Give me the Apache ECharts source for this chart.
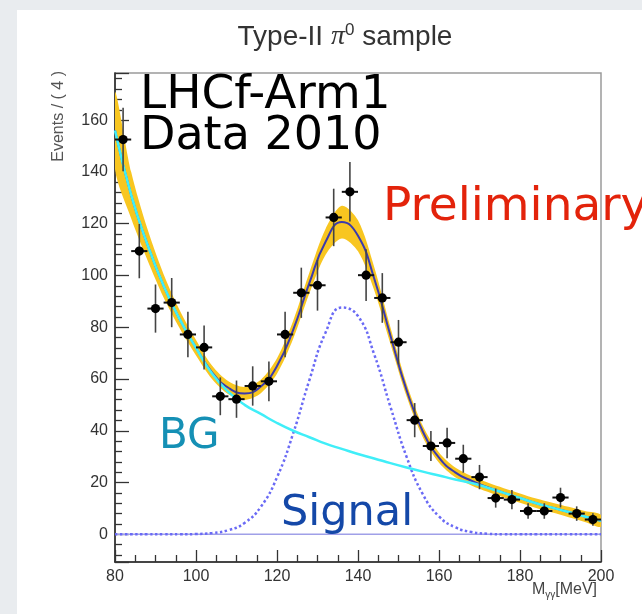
<!DOCTYPE html>
<html><head><meta charset="utf-8">
<script src="https://cdn.jsdelivr.net/npm/echarts@6/dist/echarts.min.js"></script>
<style>html,body{margin:0;padding:0;background:#e9ecef;}#c{width:642px;height:614px;}</style>
</head><body><div id="c"></div>
<script>
// Data points (bin centres, events per 4 MeV, statistical errors)
const dataX = [82,86,90,94,98,102,106,110,114,118,122,126,130,134,138,142,146,150,154,158,162,166,170,174,178,182,186,190,194,198];
const dataY = [152.5,109.4,87.2,89.5,77.2,72.2,53.3,52.2,57.3,59.1,77.2,93.3,96.2,122.4,132.3,100.1,91.3,74.2,44.1,34.1,35.3,29.2,22.1,14.0,13.4,9.0,9.0,14.2,8.0,5.7];
const dataErr = [12.3,10.5,9.3,9.5,8.8,8.5,7.3,7.2,7.6,7.7,8.8,9.7,9.8,11.1,11.5,10.0,9.6,8.6,6.6,5.8,5.9,5.4,4.7,3.7,3.7,3.0,3.0,3.8,2.8,2.4];

// Fit curves read at 4 MeV steps
const fitX = [80,84,88,92,96,100,104,108,112,116,120,124,128,132,136,140,144,148,152,156,160,164,168,172,176,180,184,188,192,196,200];
const bgY = [156,131,112,96,83,72,62,55,50,46.5,43,40,37.5,35,33,31,29.3,27.5,25.8,24.2,22.7,21.2,19.8,18,16,14,12,10.3,8.6,6.9,5.2];
const sigY = [0,0,0,0,0,0.1,0.5,1.6,4.4,10.6,22,39,59.6,78,87.6,84.3,69.5,49.3,29.9,15.5,6.9,2.7,0.9,0.2,0,0,0,0,0,0,0];
const totY = [156,131,112,96,83,72.1,62.5,56.6,54.4,57.1,65,79,97.1,113,120.6,115.3,98.8,76.8,55.7,39.7,29.6,23.9,20.7,18.2,16,14,12,10.3,8.6,6.9,5.2];
const bandLow = [141,122,106,91.5,79.5,69.1,59.9,54.1,51.9,54.5,62,75.5,93.1,108,114.3,109.3,94.3,73.6,53.2,37.5,27.6,22,18.9,16.4,14.2,12.2,10.2,8.4,6.6,4.8,2.9];
const bandHigh = [171,140,118,100.5,86.5,75.1,65.1,59.1,56.9,59.7,68,82.5,101.1,118,126.9,121.3,103.3,80,58.2,41.9,31.6,25.8,22.5,20,17.8,15.8,13.8,12.2,10.6,9,7.5];

const zeroLine = [[80,0],[200,0]];

const pts = (xs, ys) => xs.map((x,i)=>[x, ys[i]]);

const chart = echarts.init(document.getElementById('c'), null, {renderer:'canvas'});
const lblFont = 'Liberation Sans, Arial, sans-serif';
const bigFont = 'DejaVu Sans, sans-serif';

chart.setOption({
  backgroundColor: '#e9ecef',
  animation: false,
  grid: {left:115, right:41, top:73, bottom:52, show:true, borderColor:'#9a9a9a', borderWidth:1.5, backgroundColor:'#fff'},
  xAxis: {
    type:'value', min:80, max:200, interval:20,
    axisLine:{show:true, onZero:false, lineStyle:{color:'#222', width:1.5}},
    axisTick:{show:true, inside:true, length:12, lineStyle:{color:'#333', width:1.3}},
    minorTick:{show:true, splitNumber:4, length:7, lineStyle:{color:'#333', width:1.3}},
    axisLabel:{fontSize:16, color:'#333', fontFamily:lblFont, margin:7},
    splitLine:{show:false}, minorSplitLine:{show:false}
  },
  yAxis: {
    type:'value', min:-10.7, max:178.2, splitNumber:10,
    axisLine:{show:true, onZero:false, lineStyle:{color:'#222', width:1.5}},
    axisTick:{show:true, inside:true, length:14, lineStyle:{color:'#333', width:1.3}},
    minorTick:{show:true, splitNumber:5, length:7, lineStyle:{color:'#333', width:1.3}},
    axisLabel:{fontSize:16, color:'#333', fontFamily:lblFont, margin:7, showMinLabel:false, showMaxLabel:false},
    splitLine:{show:false}, minorSplitLine:{show:false}
  },
  graphic: [
    {type:'rect', left:17, top:10, shape:{width:625, height:604}, style:{fill:'#fff'}, z:-10, silent:true},
    {type:'text', x:345, y:37, style:{
      text:'{a|Type-II }{p|π}{s|0}{a| sample}', align:'center', verticalAlign:'middle',
      rich:{a:{fontSize:28, fontFamily:lblFont, fill:'#333'}, p:{fontSize:28, fontFamily:'Liberation Serif, serif', fontStyle:'italic', fill:'#333'}, s:{fontSize:17, fontFamily:lblFont, fill:'#333', padding:[0,0,14,0]}}}},
    {type:'text', x:59, y:71, rotation:Math.PI/2, style:{text:'Events / ( 4 )', align:'right', verticalAlign:'middle', fontSize:16, fontFamily:lblFont, fill:'#555'}},
    {type:'text', x:597, y:590, style:{
      text:'{a|M}{b|γγ}{a|[MeV]}', align:'right', verticalAlign:'middle',
      rich:{a:{fontSize:16, fontFamily:lblFont, fill:'#444'}, b:{fontSize:10, fontFamily:lblFont, fill:'#444', padding:[10,0,0,0]}}}},
    {type:'text', x:140, y:96, z:100, style:{text:'LHCf-Arm1', fontSize:47, fontFamily:bigFont, fill:'#000', verticalAlign:'middle'}},
    {type:'text', x:140, y:137, z:100, style:{text:'Data 2010', fontSize:46, fontFamily:bigFont, fill:'#000', verticalAlign:'middle'}},
    {type:'text', x:383, y:208, z:100, style:{text:'Preliminary', fontSize:47, fontFamily:bigFont, fill:'#e3230b', verticalAlign:'middle'}},
    {type:'text', x:159, y:437, z:100, style:{text:'BG', fontSize:42, fontFamily:bigFont, fill:'#1590b5', verticalAlign:'middle'}},
    {type:'text', x:281, y:514, z:100, style:{text:'Signal', fontSize:43, fontFamily:bigFont, fill:'#1448a8', verticalAlign:'middle'}}
  ],
  series: [
    {type:'custom', name:'band', data:fitX.map((x,i)=>[x, bandLow[i], bandHigh[i]]), encode:{x:0, y:[1,2]}, clip:true, z:2, silent:true,
      renderItem:(params, api)=>{
        if (params.dataIndexInside !== 0) return null;
        const n = params.dataInsideLength;
        const up = [], lo = [];
        for (let i = 0; i < n; i++) {
          const x = api.value(0, i);
          up.push(api.coord([x, api.value(2, i)]));
          lo.push(api.coord([x, api.value(1, i)]));
        }
        return {type:'polygon', shape:{points: up.concat(lo.reverse()), smooth:0.3}, style:{fill:'#f8c620'}};
      }},
    {type:'line', name:'zero', data:zeroLine, symbol:'none', lineStyle:{color:'#a0a0e8', width:1.5}, silent:true, z:3},
    {type:'line', name:'signal', data:pts(fitX, sigY), smooth:true, symbol:'none', lineStyle:{color:'#6a6af5', width:2.5, type:'dotted'}, silent:true, z:4},
    {type:'line', name:'total', data:pts(fitX, totY), smooth:true, symbol:'none', lineStyle:{color:'#3a3aae', width:2}, silent:true, z:5},
    {type:'line', name:'bg', data:pts(fitX, bgY), smooth:true, symbol:'none', lineStyle:{color:'#40eef8', width:2.5}, silent:true, z:6},
    {type:'custom', name:'data', data:dataX.map((x,i)=>[x, dataY[i], dataErr[i]]), encode:{x:0, y:1}, z:10, silent:true,
      renderItem:(params, api)=>{
        const x = api.value(0), y = api.value(1), e = api.value(2);
        const c = api.coord([x,y]);
        const t = api.coord([x,y+e]);
        const b = api.coord([x,y-e]);
        const l = api.coord([x-2,y]);
        const r = api.coord([x+2,y]);
        const st = {stroke:'#444', lineWidth:1.6};
        return {type:'group', children:[
          {type:'line', shape:{x1:t[0],y1:t[1],x2:b[0],y2:b[1]}, style:st},
          {type:'line', shape:{x1:l[0],y1:l[1],x2:r[0],y2:r[1]}, style:{stroke:'#111', lineWidth:2}},
          {type:'circle', shape:{cx:c[0],cy:c[1],r:4.6}, style:{fill:'#000'}}
        ]};
      }}
  ]
});
</script></body></html>
